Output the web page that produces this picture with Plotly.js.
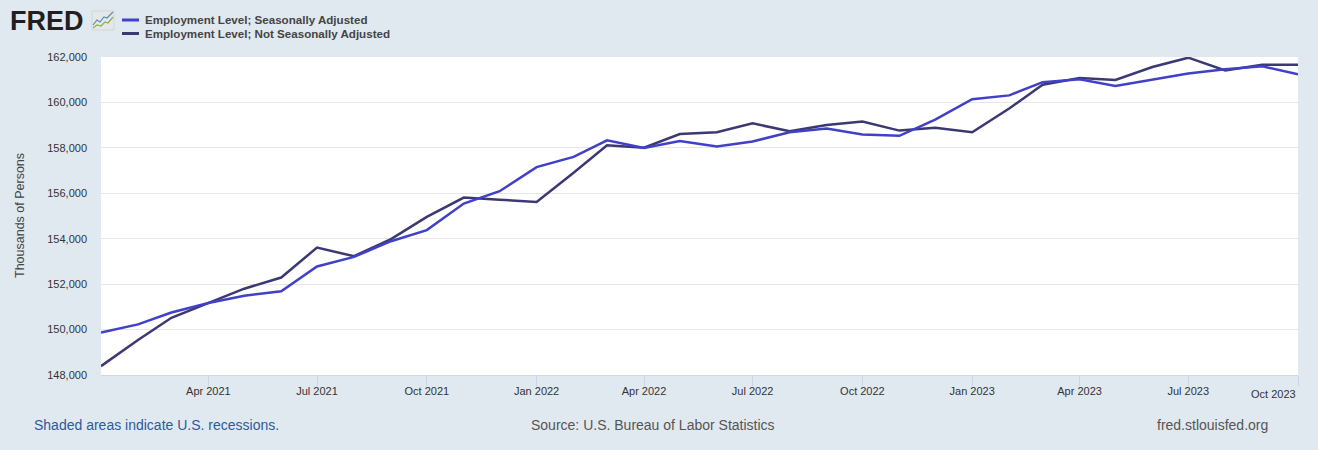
<!DOCTYPE html>
<html>
<head>
<meta charset="utf-8">
<script src="https://cdn.plot.ly/plotly-3.0.1.min.js"></script>
<style>
html,body{margin:0;padding:0;background:#e1e9f0;}
#chart{width:1318px;height:450px;}
</style>
</head>
<body>
<div id="chart"></div>
<script>
// Monthly dates, Jan 2021 - Oct 2023
var months = [
  "2021-01-01","2021-02-01","2021-03-01","2021-04-01","2021-05-01","2021-06-01",
  "2021-07-01","2021-08-01","2021-09-01","2021-10-01","2021-11-01","2021-12-01",
  "2022-01-01","2022-02-01","2022-03-01","2022-04-01","2022-05-01","2022-06-01",
  "2022-07-01","2022-08-01","2022-09-01","2022-10-01","2022-11-01","2022-12-01",
  "2023-01-01","2023-02-01","2023-03-01","2023-04-01","2023-05-01","2023-06-01",
  "2023-07-01","2023-08-01","2023-09-01","2023-10-01"
];
// Employment Level; Seasonally Adjusted (thousands)
var seasonallyAdjusted = [
  149870,150230,150750,151170,151490,151690,
  152780,153200,153890,154380,155550,156090,
  157150,157600,158330,158000,158300,158060,
  158280,158690,158850,158590,158530,159240,
  160140,160310,160890,161020,160720,161000,
  161270,161460,161590,161240
];
// Employment Level; Not Seasonally Adjusted (thousands)
var notSeasonallyAdjusted = [
  148390,149540,150520,151170,151800,152290,
  153610,153230,153980,154960,155810,155720,
  155620,156900,158110,158010,158610,158690,
  159080,158730,159010,159160,158760,158880,
  158690,159730,160780,161080,160990,161560,
  161970,161410,161660,161660
];
var tickDates = ["2021-04-01","2021-07-01","2021-10-01","2022-01-01","2022-04-01","2022-07-01",
                 "2022-10-01","2023-01-01","2023-04-01","2023-07-01","2023-10-01"];
var tickLabels = ["Apr 2021","Jul 2021","Oct 2021","Jan 2022","Apr 2022","Jul 2022",
                  "Oct 2022","Jan 2023","Apr 2023","Jul 2023",""];
var lastTickLabel = "Oct 2023";
var seriesNames = ["Employment Level; Seasonally Adjusted","Employment Level; Not Seasonally Adjusted"];
var seriesColors = ["#4040c8","#3b3972"];
var yTitle = "Thousands of Persons";
var footerLeft = "Shaded areas indicate U.S. recessions.";
var footerCenter = "Source: U.S. Bureau of Labor Statistics";
var footerRight = "fred.stlouisfed.org";

var font = "Liberation Sans, Arial, sans-serif";

// page-pixel to paper coordinate helpers (plot area 101..1298 x 57..375)
var PL = 101, PR = 1298, PT = 57, PB = 375;
function px(x){ return (x - PL) / (PR - PL); }
function py(y){ return (PB - y) / (PB - PT); }

var traces = [
  {x: months, y: notSeasonallyAdjusted, type: "scatter", mode: "lines",
   line: {color: seriesColors[1], width: 2.5}, name: seriesNames[1], hoverinfo: "skip"},
  {x: months, y: seasonallyAdjusted, type: "scatter", mode: "lines",
   line: {color: seriesColors[0], width: 2.5}, name: seriesNames[0], hoverinfo: "skip"}
];

var shapes = [
  // legend keys
  {type: "line", xref: "paper", yref: "paper", x0: px(122), x1: px(139), y0: py(20), y1: py(20),
   line: {color: seriesColors[0], width: 3}},
  {type: "line", xref: "paper", yref: "paper", x0: px(122), x1: px(139), y0: py(33.5), y1: py(33.5),
   line: {color: seriesColors[1], width: 3}},
  // small FRED graph icon
  {type: "rect", xref: "paper", yref: "paper", x0: px(92), x1: px(114), y0: py(30), y1: py(11),
   fillcolor: "#e4e8ea", line: {color: "#d0d6da", width: 1}},
  {type: "path", xref: "paper", yref: "paper",
   path: "M " + px(93) + "," + py(25) + " L " + px(97) + "," + py(20) + " L " + px(100) + "," + py(22) +
         " L " + px(104) + "," + py(17) + " L " + px(107) + "," + py(18) + " L " + px(113) + "," + py(12),
   line: {color: "#5b8ab8", width: 1.2}},
  {type: "path", xref: "paper", yref: "paper",
   path: "M " + px(93) + "," + py(28) + " L " + px(97) + "," + py(25) + " L " + px(101) + "," + py(26) +
         " L " + px(105) + "," + py(22) + " L " + px(108) + "," + py(23) + " L " + px(113) + "," + py(17),
   line: {color: "#8db04a", width: 1.2}}
];

var annotations = [
  {text: "<b>FRED</b>", xref: "paper", yref: "paper", x: px(8), y: py(21), xanchor: "left", yanchor: "middle",
   showarrow: false, font: {family: font, size: 27, color: "#231f20"}},
  {text: "<b>" + seriesNames[0] + "</b>", xref: "paper", yref: "paper", x: px(143), y: py(19.5),
   xanchor: "left", yanchor: "middle", showarrow: false, font: {family: font, size: 11.6, color: "#444444"}},
  {text: "<b>" + seriesNames[1] + "</b>", xref: "paper", yref: "paper", x: px(143), y: py(33.5),
   xanchor: "left", yanchor: "middle", showarrow: false, font: {family: font, size: 11.6, color: "#444444"}},
  {text: yTitle, xref: "paper", yref: "paper", x: px(20), y: py(216), textangle: -90,
   xanchor: "center", yanchor: "middle", showarrow: false, font: {family: font, size: 12.5, color: "#444444"}},
  {text: lastTickLabel, xref: "x", yref: "paper", x: tickDates[tickDates.length - 1], y: py(394),
   xanchor: "right", yanchor: "middle", showarrow: false, font: {family: font, size: 11, color: "#333333"}},
  {text: footerLeft, xref: "paper", yref: "paper", x: px(32), y: py(425), xanchor: "left", yanchor: "middle",
   showarrow: false, font: {family: font, size: 14, color: "#2d5a98"}},
  {text: footerCenter, xref: "paper", yref: "paper", x: px(653), y: py(425), xanchor: "center", yanchor: "middle",
   showarrow: false, font: {family: font, size: 14, color: "#555555"}},
  {text: footerRight, xref: "paper", yref: "paper", x: px(1270), y: py(425), xanchor: "right", yanchor: "middle",
   showarrow: false, font: {family: font, size: 14, color: "#555555"}}
];

var layout = {
  width: 1318, height: 450,
  paper_bgcolor: "#e1e9f0",
  plot_bgcolor: "#ffffff",
  margin: {l: PL, r: 1318 - PR, t: PT, b: 450 - PB},
  showlegend: false,
  font: {family: font, color: "#333333", size: 11},
  xaxis: {
    type: "date",
    range: ["2021-01-01","2023-10-01"],
    tickmode: "array", tickvals: tickDates, ticktext: tickLabels,
    ticks: "outside", ticklen: 10, tickcolor: "#ccd6eb", tickwidth: 1,
    ticklabelstandoff: -4,
    showgrid: false, showline: true, linecolor: "#ccd6eb", linewidth: 1,
    zeroline: false, fixedrange: true, automargin: false,
    tickfont: {family: font, size: 11, color: "#333333"}
  },
  yaxis: {
    range: [148000, 162000], dtick: 2000, tick0: 148000,
    tickformat: ",d",
    showgrid: true, gridcolor: "#e6e6e6", gridwidth: 1,
    zeroline: false, showline: false, ticks: "",
    ticklabelstandoff: 13, automargin: false,
    tickfont: {family: font, size: 11, color: "#333333"},
    fixedrange: true
  },
  shapes: shapes,
  annotations: annotations
};

Plotly.newPlot("chart", traces, layout, {staticPlot: true, displayModeBar: false});
</script>
</body>
</html>
